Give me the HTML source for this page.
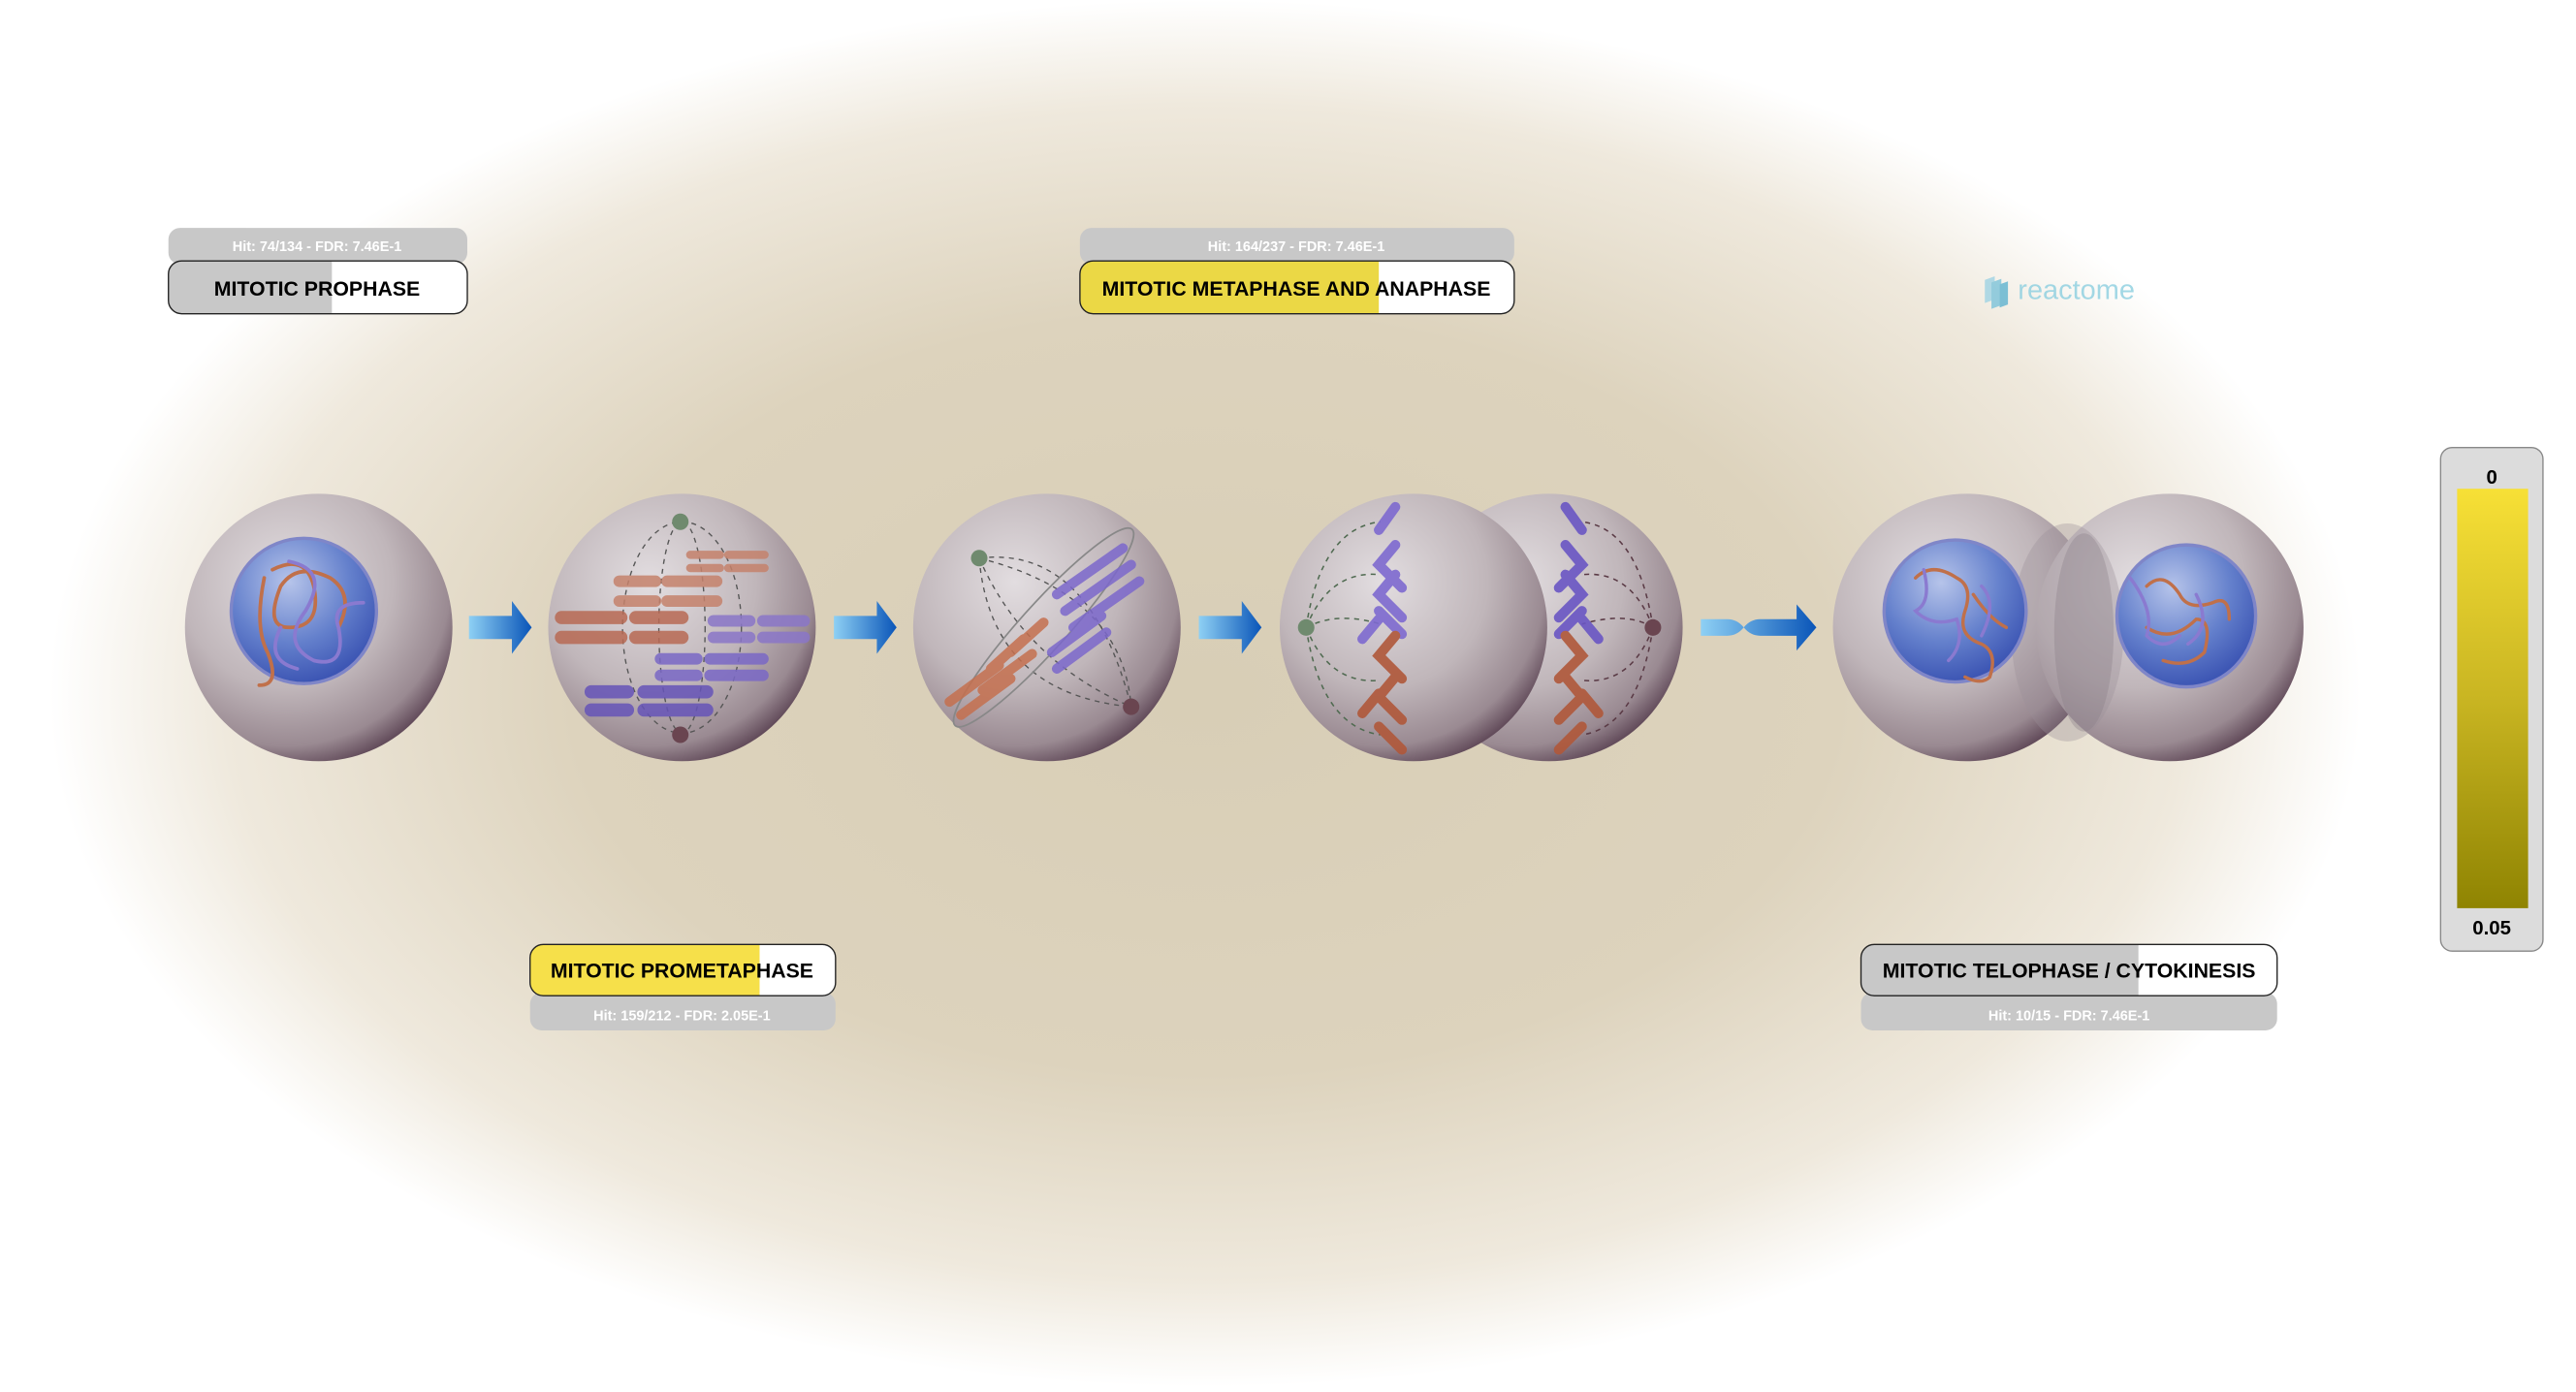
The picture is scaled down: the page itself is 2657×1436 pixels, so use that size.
<!DOCTYPE html>
<html><head><meta charset="utf-8">
<style>
html,body{margin:0;padding:0;background:#fff;width:2657px;height:1436px;overflow:hidden}
svg{display:block}
text{font-family:"Liberation Sans",Arial,sans-serif}
</style></head>
<body>
<svg width="2657" height="1436" viewBox="0 0 1560 843" preserveAspectRatio="none" xmlns="http://www.w3.org/2000/svg">
<defs>
<radialGradient id="bg" cx="730" cy="420" r="700" gradientUnits="userSpaceOnUse" gradientTransform="translate(730 420) scale(1 0.6) translate(-730 -420)">
<stop offset="0" stop-color="#d8ceb6"/><stop offset="0.55" stop-color="#ddd3bd"/><stop offset="0.85" stop-color="#efe9dd"/><stop offset="1" stop-color="#ffffff"/>
</radialGradient>
<radialGradient id="cell" cx="0.38" cy="0.33" r="0.72">
<stop offset="0" stop-color="#e2dde0"/><stop offset="0.55" stop-color="#c0b6ba"/><stop offset="0.85" stop-color="#9a8a92"/><stop offset="1" stop-color="#5a4252"/>
</radialGradient>
<radialGradient id="nuc" cx="0.4" cy="0.3" r="0.7">
<stop offset="0" stop-color="#b6c4ea"/><stop offset="0.6" stop-color="#6480cc"/><stop offset="1" stop-color="#3d56b4"/>
</radialGradient>
<linearGradient id="arr" x1="0" x2="1">
<stop offset="0" stop-color="#8ed0f4"/><stop offset="1" stop-color="#0a55b8"/>
</linearGradient>
<linearGradient id="leg" x1="0" y1="0" x2="0" y2="1">
<stop offset="0" stop-color="#f7e036"/><stop offset="0.5" stop-color="#c9b522"/><stop offset="1" stop-color="#8f8402"/>
</linearGradient>
</defs>
<rect width="1560" height="843" fill="url(#bg)"/>

<!-- Labels -->
<g>
<rect x="102" y="138" width="181" height="22" rx="7" fill="#c8c8c8"/>
<text x="192" y="152" font-size="8.5" fill="#fff" text-anchor="middle" font-weight="bold">Hit: 74/134 - FDR: 7.46E-1</text>
<clipPath id="c1"><rect x="102" y="158" width="181" height="32" rx="8"/></clipPath>
<g clip-path="url(#c1)"><rect x="102" y="158" width="181" height="32" fill="#fff"/><rect x="102" y="158" width="99" height="32" fill="#c8c8c8"/></g>
<rect x="102" y="158" width="181" height="32" rx="8" fill="none" stroke="#222" stroke-width="0.8"/>
<text x="192" y="179" font-size="12.5" font-weight="bold" text-anchor="middle" fill="#000">MITOTIC PROPHASE</text>

<rect x="654" y="138" width="263" height="22" rx="7" fill="#c8c8c8"/>
<text x="785" y="152" font-size="8.5" fill="#fff" text-anchor="middle" font-weight="bold">Hit: 164/237 - FDR: 7.46E-1</text>
<clipPath id="c2"><rect x="654" y="158" width="263" height="32" rx="8"/></clipPath>
<g clip-path="url(#c2)"><rect x="654" y="158" width="263" height="32" fill="#fff"/><rect x="654" y="158" width="181" height="32" fill="#ebd845"/></g>
<rect x="654" y="158" width="263" height="32" rx="8" fill="none" stroke="#222" stroke-width="0.8"/>
<text x="785" y="179" font-size="12.5" font-weight="bold" text-anchor="middle" fill="#000">MITOTIC METAPHASE AND ANAPHASE</text>

<rect x="321" y="601" width="185" height="23" rx="7" fill="#c8c8c8"/>
<text x="413" y="618" font-size="8.5" fill="#fff" text-anchor="middle" font-weight="bold">Hit: 159/212 - FDR: 2.05E-1</text>
<clipPath id="c3"><rect x="321" y="572" width="185" height="31" rx="8"/></clipPath>
<g clip-path="url(#c3)"><rect x="321" y="572" width="185" height="31" fill="#fff"/><rect x="321" y="572" width="139" height="31" fill="#f6e04a"/></g>
<rect x="321" y="572" width="185" height="31" rx="8" fill="none" stroke="#222" stroke-width="0.8"/>
<text x="413" y="592" font-size="12.5" font-weight="bold" text-anchor="middle" fill="#000">MITOTIC PROMETAPHASE</text>

<rect x="1127" y="601" width="252" height="23" rx="7" fill="#c8c8c8"/>
<text x="1253" y="618" font-size="8.5" fill="#fff" text-anchor="middle" font-weight="bold">Hit: 10/15 - FDR: 7.46E-1</text>
<clipPath id="c4"><rect x="1127" y="572" width="252" height="31" rx="8"/></clipPath>
<g clip-path="url(#c4)"><rect x="1127" y="572" width="252" height="31" fill="#fff"/><rect x="1127" y="572" width="168" height="31" fill="#c8c8c8"/></g>
<rect x="1127" y="572" width="252" height="31" rx="8" fill="none" stroke="#222" stroke-width="0.8"/>
<text x="1253" y="592" font-size="12.5" font-weight="bold" text-anchor="middle" fill="#000">MITOTIC TELOPHASE / CYTOKINESIS</text>
</g>

<!-- reactome logo -->
<g opacity="0.8">
<rect x="1202" y="167" width="6" height="14" fill="#9fd3e4" transform="skewY(-20) translate(0 440)"/>
<rect x="1206" y="170" width="6" height="16" fill="#7cc3da" transform="skewY(-20) translate(0 440)"/>
<rect x="1211" y="172" width="5" height="14" fill="#5fb3d0" transform="skewY(-20) translate(0 441)"/>
<text x="1222" y="181" font-size="17" fill="#8ccfe0">reactome</text>
</g>

<!-- Cell 1 prophase -->
<circle cx="193" cy="380" r="81" fill="url(#cell)"/>
<circle cx="184" cy="370" r="44" fill="url(#nuc)" stroke="#7f86c8" stroke-width="2"/>
<g fill="none" stroke-width="2.2" stroke-linecap="round">
<path d="M160 350 q-6 30 2 45 q8 20 -5 20 M165 345 q20 -10 25 10 q5 25 -15 25 q-15 0 -5 -25 q10 -15 30 -5 q15 10 5 30" stroke="#c0704a"/>
<path d="M175 340 q25 5 10 30 q-15 20 5 30 q20 5 15 -20 q-5 -15 15 -15 M170 380 q-10 20 10 25" stroke="#8a7ad0"/>
</g>

<!-- arrows -->
<g fill="url(#arr)">
<path d="M284 373 h26 v-9 l12 16 l-12 16 v-9 h-26z"/>
<path d="M505 373 h26 v-9 l12 16 l-12 16 v-9 h-26z"/>
<path d="M726 373 h26 v-9 l12 16 l-12 16 v-9 h-26z"/>
<path d="M1030 375 h16 q6 0 10 5 q4 -5 10 -5 h22 v-9 l12 14 l-12 14 v-9 h-22 q-6 0 -10 -5 q-4 5 -10 5 h-16z"/>
</g>

<!-- Cell 2 prometaphase -->
<circle cx="413" cy="380" r="81" fill="url(#cell)"/>
<g fill="none" stroke="#555" stroke-width="0.8" stroke-dasharray="3 3">
<ellipse cx="413" cy="380" rx="36" ry="64"/><ellipse cx="413" cy="380" rx="14" ry="64"/>
</g>
<circle cx="412" cy="316" r="5" fill="#6f8a6e"/><circle cx="412" cy="445" r="5" fill="#6a4550"/>
<g stroke-linecap="round" stroke-width="7" opacity="0.85">
<path d="M375 352 h22 M375 364 h22 M404 352 h30 M404 364 h30" stroke="#c5826c"/>
<path d="M418 336 h18 M418 344 h18 M441 336 h22 M441 344 h22" stroke="#c5826c" stroke-width="5"/>
<path d="M340 374 h36 M340 386 h36 M385 374 h28 M385 386 h28" stroke="#b86a54" stroke-width="8"/>
<path d="M432 376 h22 M432 386 h22 M462 376 h25 M462 386 h25" stroke="#8a76c8"/>
<path d="M400 399 h22 M400 409 h22 M430 399 h32 M430 409 h32" stroke="#7a68c6"/>
<path d="M358 419 h22 M358 430 h22 M390 419 h38 M390 430 h38" stroke="#6654b8" stroke-width="8"/>
</g>

<!-- Cell 3 -->
<circle cx="634" cy="380" r="81" fill="url(#cell)"/>
<g fill="none" stroke="#555" stroke-width="0.8" stroke-dasharray="3 3">
<path d="M593 338 Q660 330 685 428"/><path d="M593 338 Q600 420 685 428"/>
<path d="M593 338 Q680 360 685 428"/><path d="M593 338 Q620 400 685 428"/>
</g>
<ellipse cx="632" cy="380" rx="14" ry="80" fill="none" stroke="#888" stroke-width="1" transform="rotate(42 632 380)"/>
<circle cx="593" cy="338" r="5" fill="#6f8a6e"/><circle cx="685" cy="428" r="5" fill="#6a4550"/>
<g stroke-linecap="round" stroke-width="6" opacity="0.85">
<path d="M640 360 l40 -28 M645 370 l40 -28 M650 380 l40 -28 M637 395 l30 -22 M640 405 l30 -22" stroke="#7c68cc"/>
<path d="M575 425 l30 -22 M582 433 l30 -22 M595 418 l30 -22 M600 405 l20 -18 M612 395 l20 -18" stroke="#c5704f"/>
</g>

<!-- Cell 4 metaphase/anaphase -->
<circle cx="938" cy="380" r="81" fill="url(#cell)"/>
<circle cx="856" cy="380" r="81" fill="url(#cell)"/>
<g fill="none" stroke-width="0.9" stroke-dasharray="3 3">
<g stroke="#4f6a50"><path d="M791 380 Q800 320 836 316"/><path d="M791 380 Q805 345 836 348"/><path d="M791 380 Q810 370 836 378"/><path d="M791 380 Q805 415 836 412"/><path d="M791 380 Q800 440 836 445"/></g>
<g stroke="#5a3a45"><path d="M1001 380 Q992 320 958 316"/><path d="M1001 380 Q988 345 958 348"/><path d="M1001 380 Q985 370 958 378"/><path d="M1001 380 Q988 415 958 412"/><path d="M1001 380 Q992 440 958 445"/></g>
</g>
<circle cx="791" cy="380" r="5" fill="#6f8a6e"/><circle cx="1001" cy="380" r="5" fill="#6a4550"/>
<g stroke-linecap="round" stroke-width="6" fill="none" opacity="0.9">
<path d="M845 307 l-10 14 M845 330 l-10 12 l14 14 M845 348 l-10 12 l14 14 M835 370 l14 14 M835 375 l-10 12" stroke="#7e6ad0"/>
<path d="M845 385 l-10 12 l14 14 M845 410 l-10 12 l14 14 M835 420 l-10 12 M835 440 l14 14" stroke="#b0583a"/>
<path d="M948 307 l10 14 M948 330 l10 12 l-14 14 M948 348 l10 12 l-14 14 M958 370 l-14 14 M958 375 l10 12" stroke="#6a56c4"/>
<path d="M948 385 l10 12 l-14 14 M948 410 l10 12 l-14 14 M958 420 l10 12 M958 440 l-14 14" stroke="#b0583a"/>
</g>

<!-- Cell 5 telophase -->
<circle cx="1191" cy="380" r="81" fill="url(#cell)"/>
<circle cx="1314" cy="380" r="81" fill="url(#cell)"/>
<ellipse cx="1252" cy="383" rx="34" ry="66" fill="#9b8f98" opacity="0.35"/>
<ellipse cx="1262" cy="383" rx="18" ry="60" fill="#8a7e88" opacity="0.35"/>
<ellipse cx="1184" cy="370" rx="43" ry="43" fill="url(#nuc)" stroke="#7f86c8" stroke-width="2"/>
<ellipse cx="1324" cy="373" rx="42" ry="43" fill="url(#nuc)" stroke="#7f86c8" stroke-width="2"/>
<g fill="none" stroke-width="2" stroke-linecap="round">
<path d="M1160 350 q10 -10 25 0 q10 5 5 20 q-5 15 10 20 q10 5 5 20 q-5 5 -15 0 M1195 360 q10 15 20 20" stroke="#c0704a"/>
<path d="M1165 345 q5 20 -5 25 q10 10 25 5 q5 15 -5 25 M1200 355 q10 10 0 30" stroke="#8a7ad0"/>
<path d="M1300 355 q10 -10 20 5 q5 10 20 5 q10 -5 10 10 M1300 380 q15 10 30 -5 q10 0 5 20 q-10 10 -25 5" stroke="#c0704a"/>
<path d="M1290 350 q15 20 10 35 q10 10 20 0 M1330 360 q10 20 -5 30" stroke="#8a7ad0"/>
</g>

<!-- Legend -->
<rect x="1478" y="271" width="62" height="305" rx="7" fill="#dcdcdc" stroke="#888" stroke-width="0.8"/>
<rect x="1488" y="296" width="43" height="254" fill="url(#leg)"/>
<text x="1509" y="293" font-size="12" font-weight="bold" text-anchor="middle">0</text>
<text x="1509" y="566" font-size="12" font-weight="bold" text-anchor="middle">0.05</text>
</svg>
</body></html>
